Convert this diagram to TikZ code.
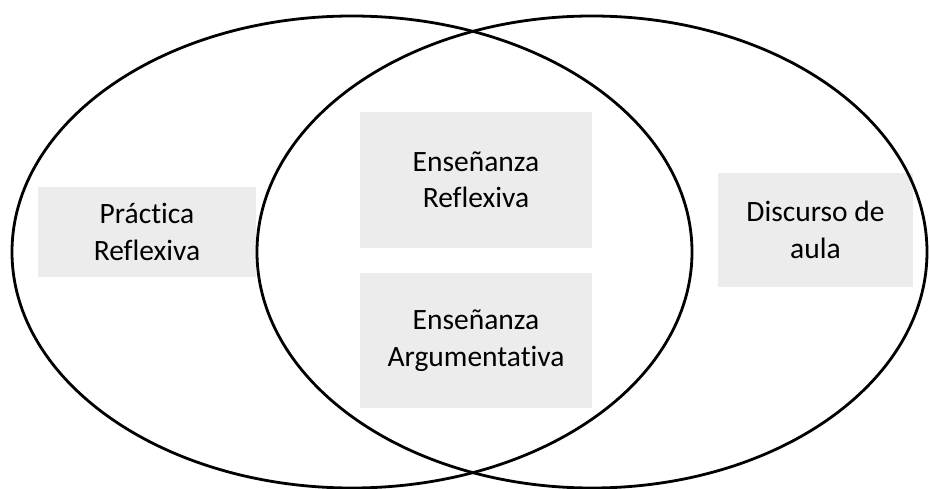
\documentclass[tikz,border=0pt]{standalone}
\usepackage{fontspec}
\setmainfont[Ligatures=NoCommon]{Carlito}
\usepackage{xcolor}
\definecolor{boxgray}{RGB}{236,236,236}
\definecolor{vennline}{RGB}{0,0,0}
\usetikzlibrary{positioning}

\begin{document}
\begin{tikzpicture}[x=1pt, y=-1pt,
  conceptbox/.style={fill=boxgray, inner sep=0pt, align=center,
    font=\fontsize{29.5}{36.5}\selectfont}]

  %% Canvas
  \useasboundingbox (0,0) rectangle (930,489);

  %% Concept boxes
  \node[conceptbox, minimum width=218pt, minimum height=90pt]
    (practica) at (147,232) {Práctica\\Reflexiva};
  \node[conceptbox, minimum width=232pt, minimum height=136pt]
    (ensrefl) at (476,180) {Enseñanza\\Reflexiva};
  \node[conceptbox, minimum width=232pt, minimum height=135pt]
    (ensarg) at (476,340.5) {Enseñanza\\Argumentativa};
  \node[conceptbox, minimum width=195pt, minimum height=114pt]
    (discurso) at (815.5,230) {Discurso de\\aula};

  %% Venn ellipses
  \draw[line width=2.8pt, vennline] (352,252) ellipse [x radius=340, y radius=236];
  \draw[line width=2.8pt, vennline] (592,252) ellipse [x radius=335, y radius=236];

\end{tikzpicture}
\end{document}
